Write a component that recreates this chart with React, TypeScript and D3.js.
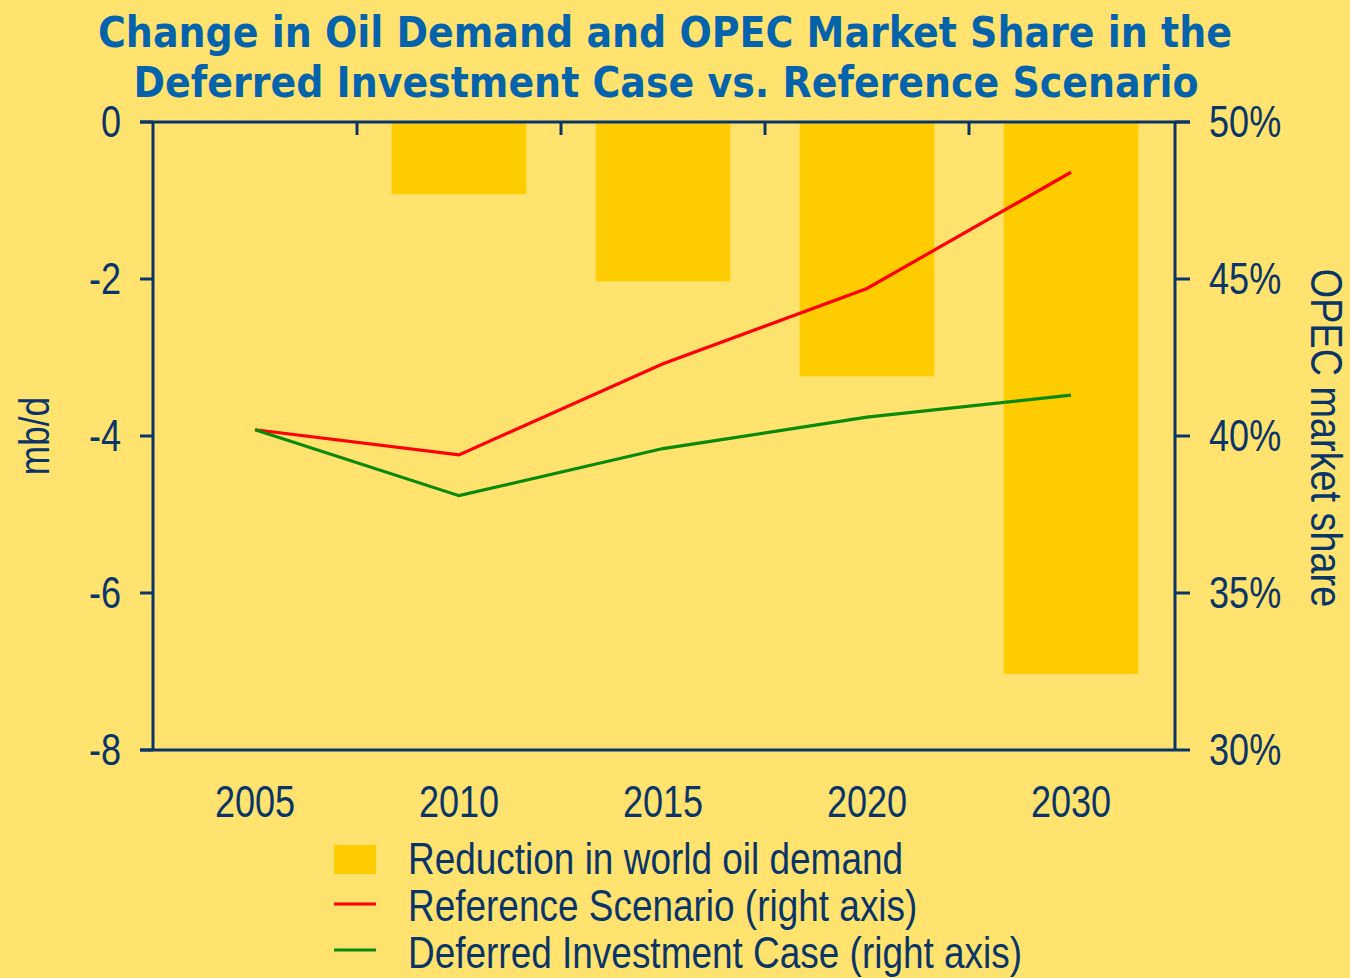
import React from "react";
import * as d3 from "d3";

const years = ["2005", "2010", "2015", "2020", "2030"];
const demandReduction = [0, -0.92, -2.03, -3.24, -7.03];
const referenceShare = [40.2, 39.4, 42.3, 44.7, 48.4];
const deferredShare = [40.2, 38.1, 39.6, 40.6, 41.3];
const leftTicks = [0, -2, -4, -6, -8];
const rightTicks = [50, 45, 40, 35, 30];

const W = 1350;
const H = 978;
const BG = "#FFE36E";
const BAR = "#FFCC00";
const AXIS = "#0A3568";
const TITLE = "#0563AC";
const FONT = "'Liberation Sans', Arial, sans-serif";
const SQ = 0.82; // horizontal squeeze to mimic a narrow face
const TSQ = 0.82; // title squeeze

// condensed text helper
const NText = ({ x, y, rot = 0, anchor = "start", size = 44, sq = SQ, children }: any) => (
  <text
    transform={`translate(${x},${y}) rotate(${rot}) scale(${sq},1)`}
    textAnchor={anchor}
    fontSize={size}
  >
    {children}
  </text>
);

const App = () => {
  const left = 153;
  const right = 1175;
  const top = 122;
  const bottom = 750;

  const x = d3.scaleBand().domain(years).range([left, right - 2]);
  const yL = d3.scaleLinear().domain([0, -8]).range([top, bottom]);
  const yR = d3.scaleLinear().domain([50, 30]).range([top, bottom]);
  const barW = x.bandwidth() * 0.66;
  const cx = (yr: string) => (x(yr) as number) + x.bandwidth() / 2;

  const mkLine = d3
    .line<number>()
    .x((_, i) => cx(years[i]))
    .y((d) => yR(d));

  const boundaries = years.map((y) => x(y) as number).slice(1);

  return (
    <svg width={W} height={H} style={{ position: "absolute", left: 0, top: 0 }}>
      <rect width={W} height={H} fill={BG} />

      <g fontFamily="'DejaVu Sans', Verdana, sans-serif" fontWeight="bold" fill={TITLE} textAnchor="middle" fontSize={43}>
        <text transform={`translate(665,47) scale(${TSQ},1)`} textLength={1134 / TSQ} lengthAdjust="spacingAndGlyphs">
          Change in Oil Demand and OPEC Market Share in the
        </text>
        <text transform={`translate(666,97) scale(${TSQ},1)`} textLength={1065 / TSQ} lengthAdjust="spacingAndGlyphs">
          Deferred Investment Case vs. Reference Scenario
        </text>
      </g>

      {/* bars */}
      {years.map((yr, i) =>
        demandReduction[i] < 0 ? (
          <rect
            key={yr}
            x={(x(yr) as number) + (x.bandwidth() - barW) / 2}
            y={yL(0)}
            width={barW}
            height={yL(demandReduction[i]) - yL(0)}
            fill={BAR}
          />
        ) : null
      )}

      {/* lines */}
      <path d={mkLine(referenceShare) as string} fill="none" stroke="#FF0000" strokeWidth={3.2} />
      <path d={mkLine(deferredShare) as string} fill="none" stroke="#0A8A00" strokeWidth={3.2} />

      {/* axes */}
      <g stroke={AXIS} strokeWidth={3}>
        <line x1={140} x2={1190} y1={top} y2={top} />
        <line x1={140} x2={right} y1={bottom} y2={bottom} />
        <line x1={left} x2={left} y1={top} y2={bottom} />
        <line x1={right} x2={right} y1={top} y2={bottom} />
        {leftTicks.map((t) => (
          <line key={t} x1={140} x2={left} y1={yL(t)} y2={yL(t)} />
        ))}
        {rightTicks.map((t) => (
          <line key={t} x1={right} x2={1190} y1={yR(t)} y2={yR(t)} />
        ))}
        {boundaries.map((b, i) => (
          <line key={i} x1={b} x2={b} y1={top} y2={top + 13} />
        ))}
      </g>

      <g fontFamily={FONT} fill={AXIS}>
        {leftTicks.map((t) => (
          <NText key={t} x={121} y={yL(t) + 15} anchor="end">
            {t}
          </NText>
        ))}
        {rightTicks.map((t) => (
          <NText key={t} x={1209} y={yR(t) + 15}>
            {t}%
          </NText>
        ))}
        {years.map((yr) => (
          <NText key={yr} x={cx(yr)} y={817} anchor="middle">
            {yr}
          </NText>
        ))}
        <NText x={49} y={436} rot={-90} anchor="middle" size={43}>
          mb/d
        </NText>
        <NText x={1311} y={438} rot={90} anchor="middle" size={44} sq={0.86}>
          OPEC market share
        </NText>
      </g>

      {/* legend */}
      <g fontFamily={FONT} fill={AXIS}>
        <rect x={334} y={845} width={42} height={29} fill={BAR} />
        <NText x={408} y={874} sq={0.84}>Reduction in world oil demand</NText>
        <line x1={334} x2={376} y1={904} y2={904} stroke="#FF0000" strokeWidth={3.2} />
        <NText x={408} y={921} sq={0.84}>Reference Scenario (right axis)</NText>
        <line x1={334} x2={376} y1={950} y2={950} stroke="#0A8A00" strokeWidth={3.2} />
        <NText x={408} y={968} sq={0.84}>Deferred Investment Case (right axis)</NText>
      </g>
    </svg>
  );
};

export default App;
